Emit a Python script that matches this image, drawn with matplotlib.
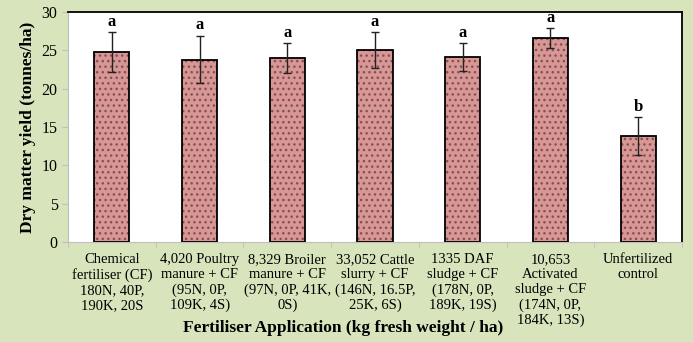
import matplotlib.pyplot as plt
import numpy as np

plt.rcParams['font.family'] = ['Liberation Serif', 'DejaVu Serif']

# yield per treatment
treatments = ['Chemical\nfertiliser (CF)\n180N, 40P,\n190K, 20S',
              '4,020 Poultry\nmanure + CF\n(95N, 0P,\n109K, 4S)',
              '8,329 Broiler\nmanure + CF\n(97N, 0P, 41K,\n0S)',
              '33,052 Cattle\nslurry + CF\n(146N, 16.5P,\n25K, 6S)',
              '1335 DAF\nsludge + CF\n(178N, 0P,\n189K, 19S)',
              '10,653\nActivated\nsludge + CF\n(174N, 0P,\n184K, 13S)',
              'Unfertilized\ncontrol']
yield_mean = [24.8, 23.8, 24.0, 25.0, 24.1, 26.6, 13.8]
yield_err = [2.6, 3.1, 1.95, 2.35, 1.8, 1.3, 2.5]
letters = ['a', 'a', 'a', 'a', 'a', 'a', 'b']

fig = plt.figure(figsize=(6.93, 3.42), dpi=100, facecolor='#d8e4bc')
ax = fig.add_axes([68 / 693, 100 / 342, 614 / 693, 230 / 342])
ax.set_facecolor('white')

x = np.arange(len(treatments))
ax.bar(x, yield_mean, width=0.4, color='#d99694', edgecolor='#7a5555',
       hatch='...', linewidth=0, zorder=2)
ax.bar(x, yield_mean, width=0.4, fill=False, edgecolor='black',
       linewidth=1.3, zorder=3)
ax.errorbar(x, yield_mean, yerr=yield_err, fmt='none', ecolor='#222222',
            elinewidth=1, capsize=3, capthick=1, zorder=4)
for xi, m, e, t in zip(x, yield_mean, yield_err, letters):
    ax.text(xi, m + e + 0.3, t, ha='center', va='bottom', fontsize=12,
            fontweight='bold')

ax.set_xlim(-0.5, len(treatments) - 0.5)
ax.set_ylim(0, 30)
ax.set_yticks(range(0, 31, 5))
ax.set_xticks(x)
ax.set_xticklabels(treatments, fontsize=10.5, linespacing=1.2, va='top')
ax.set_xticks(np.arange(-0.5, len(treatments), 1), minor=True)
ax.tick_params(axis='x', which='major', length=0, pad=8)
ax.tick_params(axis='x', which='minor', length=4, color='#bfbfbf', direction='out')
ax.tick_params(axis='y', length=4, color='#bfbfbf', labelsize=11.5)

for side in ['left', 'bottom']:
    ax.spines[side].set_color('#bfbfbf')
for side in ['top', 'right']:
    ax.spines[side].set_color('black')
    ax.spines[side].set_linewidth(1.3)

ax.set_ylabel('Dry matter yield (tonnes/ha)', fontsize=12.5, fontweight='bold',
              labelpad=4)
fig.text(0.495, 1 - 328 / 342, 'Fertiliser Application (kg fresh weight / ha)',
         ha='center', va='center', fontsize=12.5, fontweight='bold')

fig.savefig('out.png', dpi=100, facecolor=fig.get_facecolor())
